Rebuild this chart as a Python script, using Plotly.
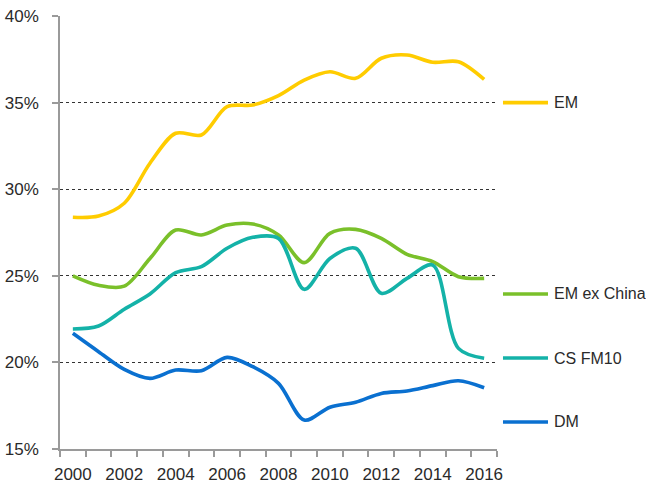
import plotly.graph_objects as go

years = list(range(2000, 2017))
em = [28.38, 28.45, 29.19, 31.5, 33.23, 33.13, 34.77, 34.86, 35.4, 36.3, 36.78, 36.4, 37.56, 37.75, 37.33, 37.36, 36.34]
em_ex_china = [25.0, 24.45, 24.4, 26.0, 27.64, 27.36, 27.93, 27.99, 27.36, 25.76, 27.45, 27.68, 27.16, 26.24, 25.82, 24.95, 24.85]
cs_fm10 = [21.93, 22.1, 23.07, 23.95, 25.18, 25.53, 26.59, 27.22, 27.16, 24.22, 26.0, 26.59, 23.99, 24.85, 25.62, 20.81, 20.24]
dm = [21.68, 20.62, 19.6, 19.08, 19.56, 19.52, 20.29, 19.75, 18.79, 16.67, 17.41, 17.7, 18.21, 18.35, 18.66, 18.94, 18.54]

series_names = ["EM", "EM ex China", "CS FM10", "DM"]
series_values = [em, em_ex_china, cs_fm10, dm]
series_colors = ["#FFCC00", "#7AC02A", "#14B2A8", "#0A70D0"]
label_y = [35.0, 23.95, 20.25, 16.56]

y_ticks = [15, 20, 25, 30, 35, 40]
x_label_years = list(range(2000, 2017, 2))

FONT = "Liberation Sans, Arial, sans-serif"
TXT = "#2a2a2a"
AX = "#9a9a9a"

fig = go.Figure()
for name, vals, col in zip(series_names, series_values, series_colors):
    fig.add_trace(go.Scatter(
        x=years, y=vals, mode="lines", name=name,
        line=dict(color=col, width=3.6, shape="spline", smoothing=0.9),
        showlegend=False, hoverinfo="skip",
    ))

# invisible trace on overlaid axis carrying the year labels
fig.add_trace(go.Scatter(x=[years[0]], y=[y_ticks[0]], xaxis="x2", mode="markers",
                         marker=dict(opacity=0), showlegend=False, hoverinfo="skip"))

xr = [years[0] - 0.5, years[-1] + 0.5]
fig.update_layout(
    width=646, height=484,
    margin=dict(l=60, r=149, t=16, b=35, autoexpand=False),
    paper_bgcolor="white", plot_bgcolor="white",
    font=dict(family=FONT, color=TXT, size=17),
    xaxis=dict(
        range=xr, showgrid=False, zeroline=False, automargin=False,
        showline=True, linecolor=AX, linewidth=1.5,
        ticks="outside", ticklen=6, tickcolor=AX, tickwidth=1.5,
        tickvals=[y - 0.5 for y in years] + [years[-1] + 0.5],
        showticklabels=False,
    ),
    xaxis2=dict(
        range=xr, overlaying="x", anchor="y", side="bottom", automargin=False,
        showgrid=False, zeroline=False, showline=False,
        tickvals=x_label_years, ticktext=[str(v) for v in x_label_years],
        ticks="outside", ticklen=0, tickcolor="rgba(0,0,0,0)",
        ticklabelstandoff=10,
        tickfont=dict(family=FONT, color=TXT, size=17),
    ),
    yaxis=dict(
        range=[y_ticks[0], y_ticks[-1]], tickvals=y_ticks, automargin=False,
        ticktext=[f"{v}%" for v in y_ticks],
        showgrid=True, gridcolor="#333333", griddash="dot", gridwidth=1,
        zeroline=False, showline=True, linecolor=AX, linewidth=1.5,
        ticks="outside", ticklen=6, tickcolor=AX, tickwidth=1.5,
        ticklabelstandoff=10,
        tickfont=dict(family=FONT, color=TXT, size=17),
    ),
)

# right-side labels
for name, col, ly in zip(series_names, series_colors, label_y):
    fig.add_shape(type="line", xref="paper", yref="y",
                  x0=1.0137, x1=1.1167, y0=ly, y1=ly,
                  line=dict(color=col, width=3.6))
    fig.add_annotation(xref="paper", yref="y", x=1.125, y=ly, text=name,
                       showarrow=False, xanchor="left", yanchor="middle",
                       font=dict(family=FONT, color=TXT, size=16))

fig.write_html("out.html", config={"displayModeBar": False},
               post_script="document.body.style.margin='0px';")
